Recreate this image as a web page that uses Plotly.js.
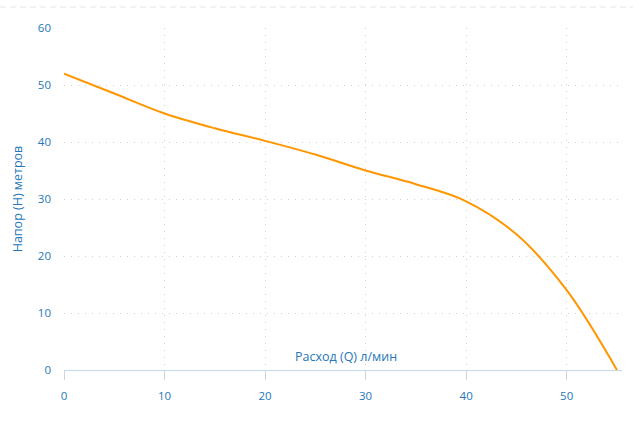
<!DOCTYPE html>
<html>
<head>
<meta charset="utf-8">
<script src="https://cdn.plot.ly/plotly-3.0.1.min.js"></script>
<style>
  html, body { margin: 0; padding: 0; background: #fff; }
  #myDiv { width: 639px; height: 429px; }
</style>
</head>
<body>
<div id="myDiv"></div>
<script>
// расход, л/мин
var flow = [0, 5, 10, 15, 20, 25, 30, 35, 40, 45, 50, 55];
// напор, м
var head = [52, 48.5, 45, 42.4, 40.2, 37.8, 35, 32.6, 29.6, 23.8, 14, 0];

var xTicks = [0, 10, 20, 30, 40, 50];
var yTicks = [0, 10, 20, 30, 40, 50, 60];

var blue = '#2577b9';

var trace1 = {
  x: flow,
  y: head,
  mode: 'lines',
  type: 'scatter',
  line: { color: '#ff9600', width: 2, shape: 'spline', smoothing: 1 },
  hoverinfo: 'x+y'
};

var layout = {
  width: 639,
  height: 429,
  margin: { l: 64, r: 17, t: 28, b: 59 },
  paper_bgcolor: '#fff',
  plot_bgcolor: '#fff',
  showlegend: false,
  font: { family: 'Open Sans, sans-serif', size: 11, color: blue },
  xaxis: {
    range: [0, 55.5],
    tickvals: xTicks,
    ticktext: xTicks.map(String),
    showgrid: true,
    gridcolor: '#cfcfcf',
    griddash: '1px,6px',
    gridwidth: 1,
    zeroline: false,
    showline: true,
    linecolor: '#c8d6ea',
    linewidth: 1,
    ticks: 'outside',
    ticklen: 9,
    tickcolor: '#c8d6ea',
    ticklabelstandoff: 6,
    tickfont: { size: 11.5, color: blue }
  },
  yaxis: {
    range: [0, 60],
    tickvals: yTicks,
    ticktext: yTicks.map(String),
    showgrid: true,
    gridcolor: '#cfcfcf',
    griddash: '1px,6px',
    gridwidth: 1,
    zeroline: false,
    showline: false,
    ticks: '',
    ticklabelstandoff: 12,
    tickfont: { size: 11.5, color: blue },
    title: {
      text: 'Напор (H) метров',
      font: { size: 12.5, color: blue },
      standoff: 12
    }
  },
  annotations: [
    {
      xref: 'x', yref: 'paper',
      x: 28, y: 0,
      yanchor: 'bottom', xanchor: 'center',
      yshift: 3,
      showarrow: false,
      text: 'Расход (Q) л/мин',
      font: { size: 12.5, color: blue }
    }
  ],
  shapes: [
    {
      type: 'line', xref: 'paper', yref: 'paper',
      x0: -64 / 558, x1: 569 / 558,
      y0: 363 / 342, y1: 363 / 342,
      line: { color: '#e6e6e6', width: 1, dash: '6px,4px' }
    }
  ]
};

Plotly.newPlot('myDiv', [trace1], layout, { displayModeBar: false, staticPlot: true });
</script>
</body>
</html>
